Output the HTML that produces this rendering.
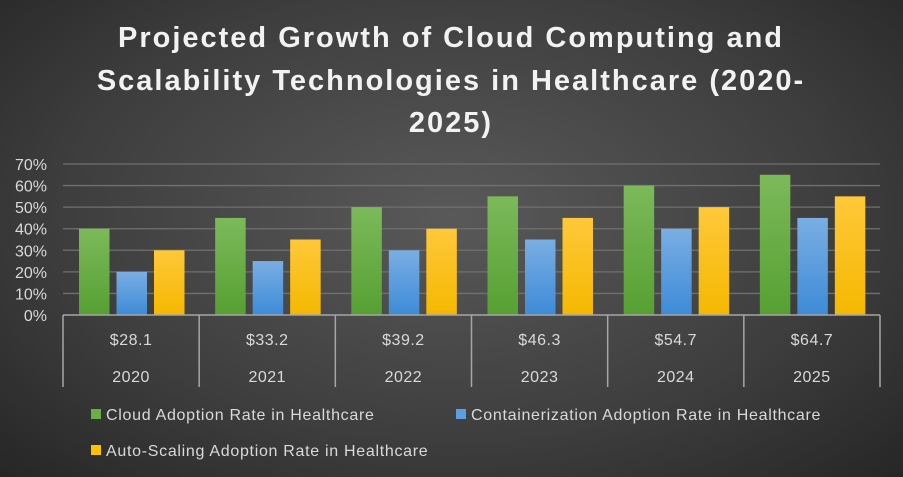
<!DOCTYPE html>
<html><head><meta charset="utf-8"><style>
html,body{margin:0;padding:0}
body{width:903px;height:477px;overflow:hidden;background:radial-gradient(ellipse at 50% 45%,#595959 0%,#3e3e3e 60%,#262626 100%);font-family:"Liberation Sans",sans-serif}
</style></head><body>
<svg id="c" width="903" height="477" xmlns="http://www.w3.org/2000/svg" style="display:block">
<defs>
<linearGradient id="gG" x1="0" y1="0" x2="0" y2="1"><stop offset="0" stop-color="#7cb95a"/><stop offset="1" stop-color="#56a032"/></linearGradient>
<linearGradient id="gB" x1="0" y1="0" x2="0" y2="1"><stop offset="0" stop-color="#7aaee3"/><stop offset="1" stop-color="#3d8bd8"/></linearGradient>
<linearGradient id="gY" x1="0" y1="0" x2="0" y2="1"><stop offset="0" stop-color="#ffc83a"/><stop offset="1" stop-color="#f5b800"/></linearGradient>
</defs>
<g fill="#f2f2f2" font-size="29" font-weight="bold" text-anchor="middle" letter-spacing="2">
<text x="451" y="47">Projected Growth of Cloud Computing and</text>
<text x="451" y="90">Scalability Technologies in Healthcare (2020-</text>
<text x="451" y="132">2025)</text>
</g>
<g id="grid"></g><g id="bars"></g><g id="axis"></g>
<g font-size="16" fill="#d9d9d9" letter-spacing="0.7">
<rect x="91" y="409" width="10" height="10" fill="#6aae45"/>
<text x="106" y="420">Cloud Adoption Rate in Healthcare</text>
<rect x="456" y="409" width="10" height="10" fill="#5b9fe0"/>
<text x="471" y="420">Containerization Adoption Rate in Healthcare</text>
<rect x="91" y="445" width="10" height="10" fill="#ffc000"/>
<text x="106" y="456">Auto-Scaling Adoption Rate in Healthcare</text>
</g>
</svg>
<script>
const years=["2020","2021","2022","2023","2024","2025"];
const market=["$28.1","$33.2","$39.2","$46.3","$54.7","$64.7"];
const cloud=[40,45,50,55,60,65];
const container=[20,25,30,35,40,45];
const autoscale=[30,35,40,45,50,55];
const yTicks=[0,10,20,30,40,50,60,70];
const NS="http://www.w3.org/2000/svg";
const x0=63,x1=880,y0=315,yTop=164,cw=(x1-x0)/years.length;
const y=v=>y0-(v/70)*(y0-yTop);
function mk(t,a,p){const e=document.createElementNS(NS,t);for(const k in a)e.setAttribute(k,a[k]);p.appendChild(e);return e;}
const grid=document.getElementById('grid'),bars=document.getElementById('bars'),axis=document.getElementById('axis');
yTicks.forEach(v=>{
 if(v>0){const l=mk('line',{x1:x0,x2:x1,y1:y(v),y2:y(v),stroke:'#707070','stroke-width':1.3},grid);
 
 }
 const t=mk('text',{x:47,y:y(v)+6,'text-anchor':'end','font-size':16,fill:'#d9d9d9'},axis);
 t.textContent=v+'%';
 
 
});
const series=[[cloud,'url(#gG)','cloud'],[container,'url(#gB)','container'],[autoscale,'url(#gY)','autoscaling']];
years.forEach((yr,i)=>{
 const cx=x0+i*cw;
 series.forEach((s,j)=>{
  const v=s[0][i];
  const r=mk('rect',{x:cx+16+j*37.5,y:y(v),width:30.5,height:y0-y(v),fill:s[1]},bars);
  
  
 });
 const m=mk('text',{x:cx+cw/2,y:345,'text-anchor':'middle','font-size':16,fill:'#d9d9d9','letter-spacing':0.5},axis);
 m.textContent=market[i];
 
 
 const t=mk('text',{x:cx+cw/2,y:382,'text-anchor':'middle','font-size':16,fill:'#d9d9d9','letter-spacing':0.5},axis);
 t.textContent=yr;
 
 
});
for(let i=0;i<=years.length;i++){
 const l=mk('line',{x1:x0+i*cw,x2:x0+i*cw,y1:y0,y2:387,stroke:'#a6a6a6','stroke-width':1.5},axis);
 
 
}
const ax=mk('line',{x1:x0,x2:x1,y1:y0,y2:y0,stroke:'#a6a6a6','stroke-width':1.5},axis);


</script>
</body></html>
